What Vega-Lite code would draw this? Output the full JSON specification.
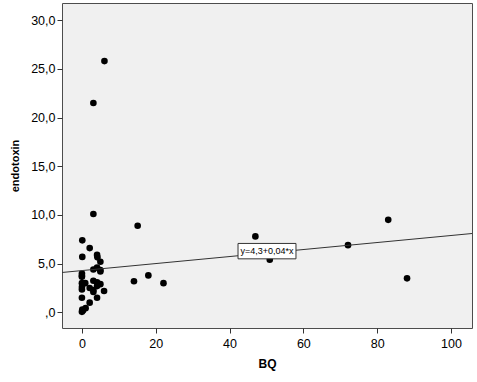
{
  "$schema": "https://vega.github.io/schema/vega-lite/v6.json",
  "autosize": "none",
  "width": 410,
  "height": 325,
  "padding": {"left": 62, "top": 3, "right": 5, "bottom": 54},
  "background": "white",
  "config": {
    "view": {"fill": "#f0f0f0", "stroke": "#4d4d4d", "strokeWidth": 1},
    "font": "Liberation Sans",
    "axis": {
      "grid": false, "domain": false, "tickColor": "#333", "tickSize": 5,
      "labelColor": "#000", "labelFont": "Liberation Sans", "labelFontSize": 12.5,
      "titleFont": "Liberation Sans", "titleFontSize": 11, "titleFontWeight": "bold", "titleColor": "#000"
    }
  },
  "datasets": {
    "pts": [
      {"BQ": 6.1, "endotoxin": 25.8}, {"BQ": 3.1, "endotoxin": 21.5}, {"BQ": 3.1, "endotoxin": 10.1},
      {"BQ": 15.1, "endotoxin": 8.9}, {"BQ": 0.1, "endotoxin": 7.4}, {"BQ": 2.1, "endotoxin": 6.6},
      {"BQ": 0.1, "endotoxin": 5.7}, {"BQ": 4.1, "endotoxin": 5.9}, {"BQ": 4.2, "endotoxin": 5.65},
      {"BQ": 5.0, "endotoxin": 5.2}, {"BQ": 5.0, "endotoxin": 4.35}, {"BQ": 5.0, "endotoxin": 4.2},
      {"BQ": 3.1, "endotoxin": 4.4}, {"BQ": 4.1, "endotoxin": 4.6}, {"BQ": 0, "endotoxin": 4.0},
      {"BQ": 0, "endotoxin": 3.76}, {"BQ": 0, "endotoxin": 3.65}, {"BQ": 3.1, "endotoxin": 3.25},
      {"BQ": 4.1, "endotoxin": 3.1}, {"BQ": 14.1, "endotoxin": 3.2}, {"BQ": 18.0, "endotoxin": 3.8},
      {"BQ": 22.1, "endotoxin": 3.0}, {"BQ": 0, "endotoxin": 3.0}, {"BQ": 0.9, "endotoxin": 3.0},
      {"BQ": 0, "endotoxin": 2.6}, {"BQ": 0, "endotoxin": 2.35}, {"BQ": 2.1, "endotoxin": 2.5},
      {"BQ": 3.1, "endotoxin": 2.3}, {"BQ": 3.1, "endotoxin": 2.1}, {"BQ": 4.1, "endotoxin": 2.7},
      {"BQ": 5.0, "endotoxin": 2.9}, {"BQ": 6.0, "endotoxin": 2.2}, {"BQ": 4.1, "endotoxin": 1.5},
      {"BQ": 0, "endotoxin": 1.5}, {"BQ": 2.1, "endotoxin": 1.0}, {"BQ": 1.0, "endotoxin": 0.44},
      {"BQ": 0.1, "endotoxin": 0.3}, {"BQ": 0, "endotoxin": 0.06}, {"BQ": 0.3, "endotoxin": 0.2},
      {"BQ": 47.0, "endotoxin": 7.8}, {"BQ": 50.9, "endotoxin": 5.4}, {"BQ": 72.1, "endotoxin": 6.9},
      {"BQ": 83.0, "endotoxin": 9.5}, {"BQ": 88.1, "endotoxin": 3.5}
    ],
    "fit": [
      {"BQ": -5.4, "endotoxin": 4.1},
      {"BQ": 105.7, "endotoxin": 8.1}
    ],
    "label": [
      {"x1": 42.3, "x2": 58.0, "y1": 5.5, "y2": 7.08, "xm": 50.15, "ym": 6.29, "text": "y=4,3+0,04*x"}
    ]
  },
  "layer": [
    {
      "data": {"name": "pts"},
      "mark": {"type": "point", "filled": true, "color": "#000", "size": 44, "opacity": 1},
      "encoding": {
        "x": {"field": "BQ", "type": "quantitative",
          "scale": {"domain": [-5.4, 105.7], "nice": false, "zero": false},
          "axis": {"values": [0, 20, 40, 60, 80, 100], "title": "BQ", "labelPadding": 4, "titlePadding": 9, "titleFontSize": 12}},
        "y": {"field": "endotoxin", "type": "quantitative",
          "scale": {"domain": [-1.6, 31.76], "nice": false, "zero": false},
          "axis": {"values": [0, 5, 10, 15, 20, 25, 30], "title": "endotoxin", "labelPadding": 2, "titlePadding": 10,
            "labelExpr": "datum.value == 0 ? ',0' : replace(format(datum.value, '.1f'), '.', ',')"}}
      }
    },
    {
      "data": {"name": "fit"},
      "mark": {"type": "line", "color": "#333", "strokeWidth": 1},
      "encoding": {
        "x": {"field": "BQ", "type": "quantitative"},
        "y": {"field": "endotoxin", "type": "quantitative"}
      }
    },
    {
      "data": {"name": "label"},
      "mark": {"type": "rect", "fill": "white", "stroke": "#333", "strokeWidth": 1},
      "encoding": {
        "x": {"field": "x1", "type": "quantitative"},
        "x2": {"field": "x2"},
        "y": {"field": "y1", "type": "quantitative"},
        "y2": {"field": "y2"}
      }
    },
    {
      "data": {"name": "label"},
      "mark": {"type": "text", "fontSize": 9, "color": "#000", "font": "Liberation Sans"},
      "encoding": {
        "x": {"field": "xm", "type": "quantitative"},
        "y": {"field": "ym", "type": "quantitative"},
        "text": {"field": "text"}
      }
    }
  ]
}
